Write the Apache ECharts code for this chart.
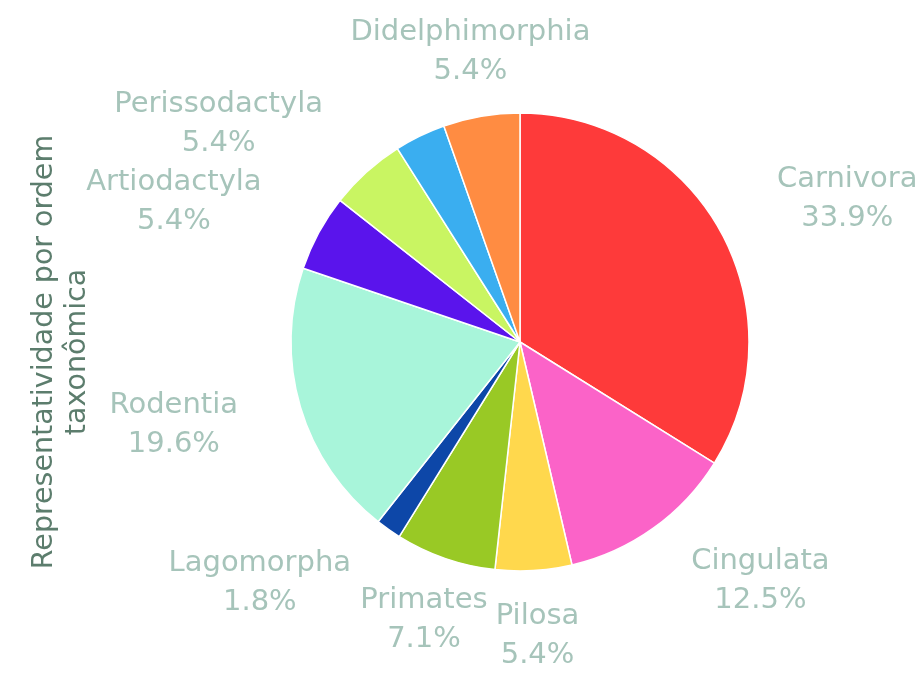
<!DOCTYPE html>
<html>
<head>
<meta charset="utf-8">
<script src="https://cdn.jsdelivr.net/npm/echarts@6/dist/echarts.min.js"></script>
<style>
  html, body { margin: 0; padding: 0; background: #fff; }
  #chart { width: 918px; height: 674px; }
</style>
</head>
<body>
<div id="chart"></div>
<script>
// Orders in clockwise order from 12 o'clock, with their share (%) of species
const orders = ['Carnivora', 'Cingulata', 'Pilosa', 'Primates', 'Lagomorpha', 'Rodentia',
                'Artiodactyla', 'Perissodactyla', 'Outros', 'Didelphimorphia'];
const shares = [33.9, 12.5, 5.4, 7.1, 1.8, 19.6, 5.4, 5.4, 3.6, 5.4];
const hiddenLabels = ['Outros'];
const sliceColors = ['#fe3a3a', '#fb63c8', '#ffd84d', '#99c925', '#0d47a8', '#a8f5da',
                     '#5a14ec', '#c9f562', '#3aaef0', '#ff8c42'];

const CX = 520, CY = 342, R = 229;
const LABEL_R = 294;

const total = shares.reduce((a, b) => a + b, 0);
// mid-angle of each slice (radians, math convention), starting at 90deg, clockwise
const midAngles = [];
let acc = 0;
shares.forEach(v => {
  const mid = acc + v / 2;
  midAngles.push((90 - mid / total * 360) * Math.PI / 180);
  acc += v;
});

const chart = echarts.init(document.getElementById('chart'), null, { renderer: 'canvas' });

chart.setOption({
  animation: false,
  color: sliceColors,
  graphic: [{
    type: 'text',
    x: 61,
    y: 352,
    rotation: Math.PI / 2,
    style: {
      text: 'Representatividade por ordem\ntaxonômica',
      fontFamily: 'DejaVu Sans',
      fontSize: 28.5,
      lineHeight: 33,
      fill: '#5c7d6d',
      align: 'center',
      verticalAlign: 'middle',
      textAlign: 'center',
      textVerticalAlign: 'middle'
    }
  }],
  series: [{
    type: 'pie',
    center: [CX, CY],
    radius: R,
    startAngle: 90,
    clockwise: true,
    avoidLabelOverlap: false,
    itemStyle: { borderColor: '#ffffff', borderWidth: 1.5 },
    label: {
      show: true,
      position: 'outside',
      formatter: '{b}\n{c}%',
      fontFamily: 'DejaVu Sans',
      fontSize: 29,
      lineHeight: 39,
      color: '#a6c4ba'
    },
    labelLine: { show: false },
    labelLayout: function (params) {
      const a = midAngles[params.dataIndex];
      const cos = Math.cos(a), sin = Math.sin(a);
      let x = CX + LABEL_R * cos;
      const y = CY - LABEL_R * sin;
      // side labels hang off their anchor; top and bottom ones sit centred on it
      if (Math.abs(cos) > 0.5) {
        x += (cos > 0 ? 1 : -1) * params.labelRect.width / 2;
      }
      return { x: x, y: y, align: 'center', verticalAlign: 'middle' };
    },
    emphasis: { disabled: true },
    data: orders.map((name, i) => ({
      name: name,
      value: shares[i],
      label: hiddenLabels.indexOf(name) >= 0 ? { show: false } : undefined
    }))
  }]
});
</script>
</body>
</html>
